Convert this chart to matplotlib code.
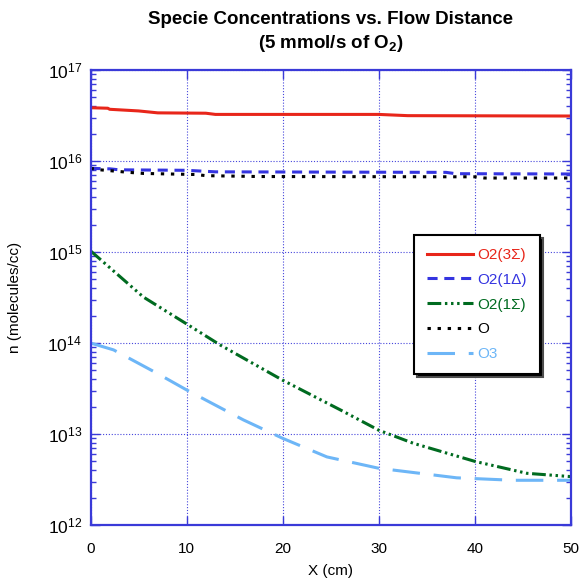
import matplotlib
matplotlib.use("Agg")
import matplotlib.pyplot as plt
from matplotlib.ticker import LogLocator, FixedLocator

plt.rcParams['font.family'] = ['Liberation Sans', 'DejaVu Sans']
plt.rcParams['mathtext.fontset'] = 'custom'
plt.rcParams['mathtext.rm'] = 'Liberation Sans'
plt.rcParams['mathtext.bf'] = 'Liberation Sans:bold'

# data
x_o2_3s = [0, 1.8, 2, 5, 7, 12, 13, 30, 33, 50]
n_o2_3s = [3.85e16, 3.8e16, 3.7e16, 3.55e16, 3.38e16, 3.35e16, 3.25e16, 3.25e16, 3.15e16, 3.12e16]

x_o2_1d = [0, 2, 3, 10, 13, 37, 38, 50]
n_o2_1d = [8.3e15, 8.2e15, 8.0e15, 7.9e15, 7.6e15, 7.5e15, 7.25e15, 7.2e15]

x_o2_1s = [0, 5.5, 10, 13.5, 20, 26, 30, 33.6, 40, 45.4, 50]
n_o2_1s = [1.03e15, 3.2e14, 1.62e14, 9.5e13, 3.9e13, 1.84e13, 1.1e13, 7.9e12, 5.0e12, 3.7e12, 3.4e12]

x_o = [0, 1, 4, 5.5, 11, 12, 17.5, 40, 41, 50]
n_o = [8.3e15, 8.0e15, 7.5e15, 7.3e15, 7.1e15, 6.9e15, 6.75e15, 6.7e15, 6.5e15, 6.5e15]

x_o3 = [0, 2.4, 6.9, 10, 15.9, 20, 24.6, 30, 38.1, 44, 50]
n_o3 = [1.0e14, 8.4e13, 4.66e13, 3.05e13, 1.43e13, 8.96e12, 5.6e12, 4.2e12, 3.3e12, 3.1e12, 3.1e12]

x_ticks = [0, 10, 20, 30, 40, 50]

frame_blue = '#3a3ad8'

fig = plt.figure(figsize=(5.82, 5.78), dpi=100)
ax = fig.add_axes([0.1555, 0.0917, 0.8256, 0.7872])

ax.plot(x_o2_3s, n_o2_3s, color='#e8261a', lw=2.2, label='O2(3Σ)')
ax.plot(x_o2_1d, n_o2_1d, color='#3434e0', lw=2.2, ls=(0, (3.3, 2.2)), label='O2(1Δ)')
ax.plot(x_o2_1s, n_o2_1s, color='#006b20', lw=2.2,
        ls=(0, (4.5, 1.2, 0.8, 1.2, 0.8, 1.2, 0.8, 1.2)), label='O2(1Σ)')
ax.plot(x_o, n_o, color='black', lw=2.2, ls=(0, (1.1, 2.2)), label='O')
ax.plot(x_o3, n_o3, color='#6db6f7', lw=2.2, ls=(0, (9, 4.5)), label='O3')

ax.set_yscale('log')
ax.set_xlim(0, 50)
ax.set_ylim(1e12, 1e17)
ax.xaxis.set_major_locator(FixedLocator(x_ticks))
ax.yaxis.set_major_locator(LogLocator(base=10, numticks=10))
ax.yaxis.set_minor_locator(LogLocator(base=10, subs=range(2, 10), numticks=10))

ax.grid(True, which='major', color='#4646dc', ls=(0, (1, 1.6)), lw=0.8)
for s in ax.spines.values():
    s.set_color(frame_blue)
    s.set_linewidth(1.6)
ax.tick_params(which='both', direction='in', top=True, right=True, color=frame_blue)
ax.tick_params(which='major', length=6.5, width=1, labelsize=11, pad=12)
ax.tick_params(which='minor', length=3.5, width=1)
ax.tick_params(axis='y', which='major', labelsize=12.5, pad=6)

ax.set_xlabel('X (cm)', fontsize=11, labelpad=6)
ax.set_ylabel('n (molecules/cc)', fontsize=11, labelpad=18)
ax.set_title('Specie Concentrations vs. Flow Distance\n(5 mmol/s of O$_\\mathbf{2}$)',
             fontsize=13.5, fontweight='bold', pad=16, linespacing=1.3)

leg = ax.legend(loc='upper left', bbox_to_anchor=(0.673, 0.637), borderaxespad=0,
                fontsize=11, handlelength=3.0, handletextpad=0.3, labelspacing=0.7,
                borderpad=0.85, labelcolor='linecolor', fancybox=False,
                edgecolor='black', framealpha=1,
                shadow={'facecolor': 'black', 'alpha': 1})
leg.get_frame().set_linewidth(1.5)

fig.savefig('out.png', dpi=100)
